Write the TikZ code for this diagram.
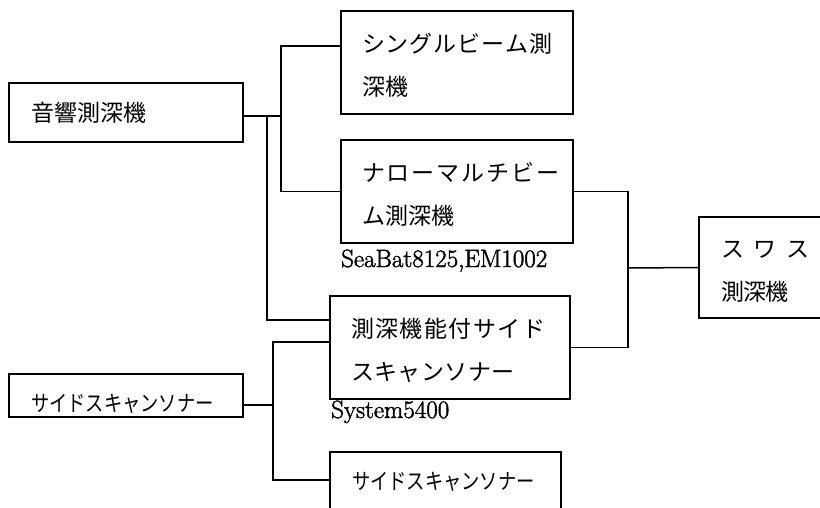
\documentclass[tikz,border=0pt]{standalone}
\usepackage{fontspec}
\newfontfamily\jp{Noto Sans CJK JP}
\newfontfamily\lab[FakeBold=1.8]{Latin Modern Roman}
\usepackage{graphicx}
\makeatletter
\newcommand\spaced[2]{\def\sp@w{#1}\sp@loop#2\@nil}
\def\sp@loop#1{\ifx#1\@nil\else\makebox[\sp@w][l]{#1}\expandafter\sp@loop\fi}
\makeatother
\begin{document}
\begin{tikzpicture}[x=1pt,y=-1pt,
  box/.style={draw, line width=1.6pt, rectangle, inner ysep=0pt,
    font=\jp\fontsize{23}{43}\selectfont, align=left},
  twoline/.style={text height=20pt, text depth=40pt},
  lbl/.style={font=\lab\fontsize{25}{25}\selectfont, inner sep=0pt, anchor=base west},
  wire/.style={line width=1.5pt}]
\useasboundingbox (0,0) rectangle (820,508);
\clip (0,0) rectangle (820,508);

% boxes
\node[box, minimum width=234pt, minimum height=59pt, text width=190pt, inner xsep=22pt]
  (A) at (126,112.5) {\spaced{23pt}{音響測深機}};
\node[box, twoline, minimum width=232pt, minimum height=103pt, text width=190pt, inner xsep=21pt]
  (B) at (457,62.5) {\spaced{24pt}{シングルビーム測}\\\spaced{23pt}{深機}};
\node[box, twoline, minimum width=232pt, minimum height=103pt, text width=190pt, inner xsep=21pt]
  (C) at (457,191.5) {\spaced{25pt}{ナローマルチビー}\\\spaced{23pt}{ム測深機}};
\node[box, twoline, minimum width=240pt, minimum height=103pt, text width=198pt, inner xsep=21pt]
  (D) at (450,347.5) {\spaced{24.5pt}{測深機能付サイド}\\\spaced{23.5pt}{スキャンソナー}};
\node[box, minimum width=234pt, minimum height=43pt, text width=190pt, inner xsep=22pt,
  font=\jp\fontsize{22}{22}\selectfont, text height=34pt, text depth=3pt]
  (E) at (126,395.5) {\scalebox{0.83}[1]{サイドスキャンソナー}};
\node[box, minimum width=231pt, minimum height=60pt, text width=187pt, inner xsep=22pt,
  font=\jp\fontsize{22}{22}\selectfont]
  (F) at (445.5,482) {\scalebox{0.83}[1]{サイドスキャンソナー}};
\node[box, twoline, minimum width=141pt, minimum height=101pt, text width=97pt, inner xsep=22pt]
  (G) at (769.5,267.5) {\spaced{33pt}{スワス}\\\spaced{22pt}{測深機}};

% labels
\node[lbl] (l1) at (341,267) {SeaBat8125,EM1002};
\node[lbl] (l2) at (331,418) {System5400};

% connectors
\coordinate (jA) at (281,116);
\coordinate (jB) at (281,46);
\coordinate (kA) at (267,116);
\coordinate (kD) at (267,320);
\coordinate (jS) at (628,268);
\coordinate (jE) at (273,405);
\coordinate (jD) at (273,342);
\coordinate (jF) at (273,480);

\draw[wire] (A.east |- jA) -- (jA);
\draw[wire] (B.west |- jB) -- (jB) |- (C.west);
\draw[wire] (kA) -- (kD) -- (D.west |- kD);
\draw[wire] (C.east) -| (jS) |- (D.east);
\draw[wire] (jS) -- (G.west);
\draw[wire] (E.east |- jE) -- (jE);
\draw[wire] (D.west |- jD) -| (jF) -- (F.west |- jF);
\end{tikzpicture}
\end{document}
